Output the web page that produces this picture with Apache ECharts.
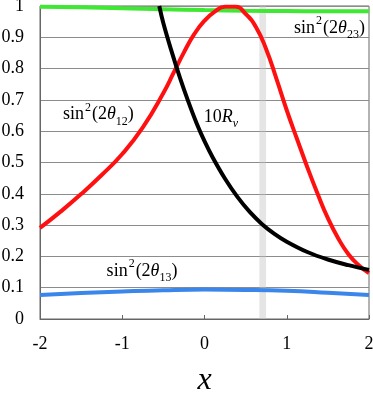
<!DOCTYPE html>
<html>
<head>
<meta charset="utf-8">
<script src="https://cdn.jsdelivr.net/npm/echarts@6/dist/echarts.min.js"></script>
<style>
html,body{margin:0;padding:0;background:#fff;}
#c{width:373px;height:393px;}
</style>
</head>
<body>
<div id="c"></div>
<script>
// ---- data ----
const xTicks = [-2, -1, 0, 1, 2];
const yTicks = [0, 0.1, 0.2, 0.3, 0.4, 0.5, 0.6, 0.7, 0.8, 0.9, 1];

const xRed = [-2, -1.75, -1.5, -1.25, -1, -0.75, -0.5, -0.375, -0.25, -0.125, 0, 0.125, 0.25, 0.375, 0.5, 0.625, 0.75, 0.875, 1, 1.125, 1.25, 1.375, 1.5, 1.625, 1.75, 1.875, 2];
const sin2_12 = [0.291, 0.343, 0.399, 0.460, 0.527, 0.612, 0.722, 0.787, 0.852, 0.910, 0.953, 0.982, 0.998, 0.998, 0.975, 0.933, 0.862, 0.767, 0.667, 0.575, 0.485, 0.400, 0.322, 0.258, 0.207, 0.172, 0.147];

const xBlack = [-0.55, -0.5, -0.4, -0.3, -0.2, -0.1, 0, 0.1, 0.25, 0.4, 0.55, 0.7, 0.85, 1.0, 1.25, 1.5, 1.75, 2];
const tenRnu = [1.0, 0.945, 0.855, 0.772, 0.697, 0.628, 0.568, 0.516, 0.448, 0.390, 0.342, 0.303, 0.272, 0.247, 0.214, 0.19, 0.172, 0.157];

const xGreen = [-2, -1.5, -1, -0.5, 0, 0.5, 1, 1.5, 2];
const sin2_23 = [0.998, 0.996, 0.993, 0.99, 0.987, 0.985, 0.984, 0.983, 0.983];

const xBlue = [-2, -1.5, -1, -0.5, 0, 0.5, 1, 1.5, 2];
const sin2_13 = [0.077, 0.083, 0.088, 0.092, 0.094, 0.093, 0.09, 0.084, 0.077];

const band = [0.667, 0.748];

const pairs = (xs, ys) => xs.map((x, i) => [x, ys[i]]);

const FONT = 'Liberation Serif';
const chart = echarts.init(document.getElementById('c'), null, {renderer: 'canvas'});

const option = {
  animation: false,
  backgroundColor: '#fff',
  grid: {left: 40, right: 4, top: 6, bottom: 74, show: true, borderColor: '#666', borderWidth: 1,
    containLabel: false, outerBoundsMode: 'none'},
  xAxis: {
    type: 'value', min: -2, max: 2, interval: 1,
    name: 'x', nameLocation: 'middle', nameGap: 46,
    nameTextStyle: {fontFamily: FONT, fontStyle: 'italic', fontSize: 32, color: '#000'},
    axisLine: {onZero: false, lineStyle: {color: '#666'}},
    axisTick: {inside: true, length: 4, lineStyle: {color: '#666'}},
    splitLine: {show: false},
    axisLabel: {fontFamily: FONT, fontSize: 18, color: '#000', margin: 16}
  },
  yAxis: {
    type: 'value', min: 0, max: 1, interval: 0.1,
    axisLine: {show: true, onZero: false, lineStyle: {color: '#666'}},
    axisTick: {show: false},
    splitLine: {lineStyle: {color: '#8c8c8c', width: 1}},
    axisLabel: {fontFamily: FONT, fontSize: 18, color: '#000', margin: 16}
  },
  series: [
    {type: 'line', data: pairs(xGreen, sin2_23), smooth: true, showSymbol: false, clip: false,
      lineStyle: {color: '#3fe832', width: 4}, z: 2},
    {type: 'line', data: pairs(xRed, sin2_12), smooth: 0.5, showSymbol: false,
      lineStyle: {color: '#ff1010', width: 4}, z: 3},
    {type: 'line', data: pairs(xBlue, sin2_13), smooth: true, showSymbol: false,
      lineStyle: {color: '#3a86ea', width: 4}, z: 3},
    {type: 'line', data: pairs(xBlack, tenRnu), smooth: 0.4, showSymbol: false,
      lineStyle: {color: '#000', width: 4}, z: 4},
    {type: 'line', data: [], z: 10,
      markArea: {silent: true, itemStyle: {color: 'rgba(192,192,192,0.42)'},
        data: [[{xAxis: band[0]}, {xAxis: band[1]}]]}}
  ]
};
chart.setOption(option);

const rich = {
  n: {fontFamily: FONT, fontSize: 18, color: '#000', lineHeight: 26, verticalAlign: 'middle'},
  it: {fontFamily: FONT, fontSize: 18, fontStyle: 'italic', color: '#000', lineHeight: 26, verticalAlign: 'middle'},
  sup: {fontFamily: FONT, fontSize: 12, color: '#000', lineHeight: 12, verticalAlign: 'top', padding: [0, 1, 0, 1]},
  sub: {fontFamily: FONT, fontSize: 12, color: '#000', lineHeight: 12, verticalAlign: 'bottom'},
  subit: {fontFamily: FONT, fontSize: 12, fontStyle: 'italic', color: '#000', lineHeight: 12, verticalAlign: 'bottom'}
};
const labels = [
  {pos: [-1.72, 0.653], align: 'left', text: '{n|sin}{sup|2}{n|(2}{it|θ}{sub|12}{n|)}'},
  {pos: [1.95, 0.93], align: 'right', text: '{n|sin}{sup|2}{n|(2}{it|θ}{sub|23}{n|)}'},
  {pos: [-0.01, 0.645], align: 'left', text: '{n|10}{it|R}{subit|ν}'},
  {pos: [-1.19, 0.154], align: 'left', text: '{n|sin}{sup|2}{n|(2}{it|θ}{sub|13}{n|)}'}
];
const graphic = labels.map(l => {
  const p = chart.convertToPixel({gridIndex: 0}, l.pos);
  return {type: 'text', x: p[0], y: p[1], z: 20,
    style: {text: l.text, rich: rich, align: l.align, verticalAlign: 'middle'}};
});
chart.setOption({graphic: graphic});
</script>
</body>
</html>
